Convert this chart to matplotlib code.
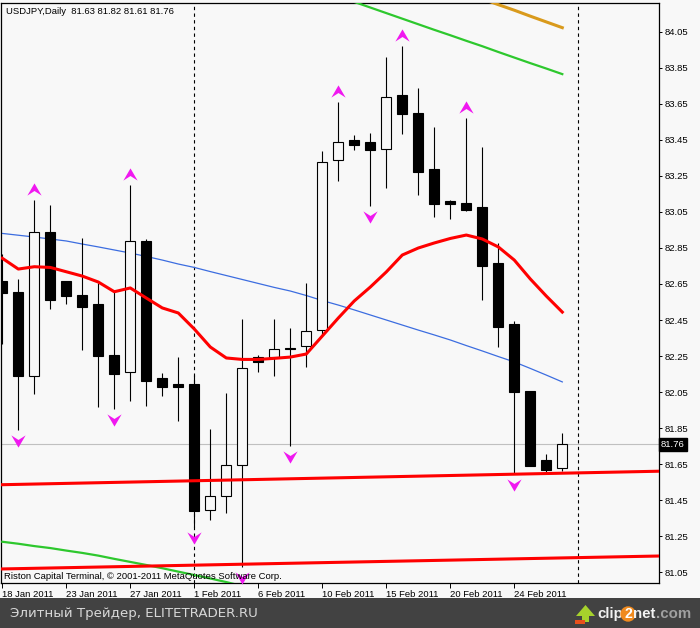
import numpy as np
import matplotlib.pyplot as plt
from matplotlib.path import Path
from matplotlib.patches import Rectangle, Polygon

# USDJPY daily bars, 18 Jan - 28 Feb 2011 (broker shows Sunday bars)
dates = ['18 Jan', '19 Jan', '20 Jan', '21 Jan', '23 Jan', '24 Jan', '25 Jan', '26 Jan',
         '27 Jan', '28 Jan', '30 Jan', '31 Jan', '1 Feb', '2 Feb', '3 Feb', '4 Feb',
         '6 Feb', '7 Feb', '8 Feb', '9 Feb', '10 Feb', '11 Feb', '13 Feb', '14 Feb',
         '15 Feb', '16 Feb', '17 Feb', '18 Feb', '20 Feb', '21 Feb', '22 Feb', '23 Feb',
         '24 Feb', '25 Feb', '27 Feb', '28 Feb']
opens = [82.667, 82.606, 82.141, 82.939, 82.667, 82.589, 82.539, 82.256, 82.163, 82.889,
         82.128, 82.094, 82.094, 81.393, 81.471, 81.643, 82.243, 82.243, 82.294, 82.304,
         82.393, 83.337, 83.450, 83.439, 83.398, 83.700, 83.600, 83.289, 83.111, 83.100,
         83.078, 82.767, 82.428, 82.056, 81.672, 81.63]
highs = [82.817, 82.678, 83.117, 83.089, 82.667, 82.906, 82.654, 82.607, 83.200, 82.900,
         82.156, 82.244, 82.144, 81.844, 82.044, 82.456, 82.256, 82.456, 82.404, 82.654,
         83.389, 83.661, 83.478, 83.489, 83.911, 83.972, 83.737, 83.521, 83.117, 83.572,
         83.411, 82.876, 82.444, 82.056, 81.706, 81.82]
lows = [82.317, 81.839, 82.039, 82.513, 82.541, 82.283, 81.965, 81.958, 82.002, 81.974,
        82.029, 81.891, 81.300, 81.339, 81.379, 81.079, 82.163, 82.139, 81.752, 82.191,
        82.367, 83.224, 83.396, 83.085, 83.185, 83.485, 83.146, 83.024, 83.013, 83.056,
        82.563, 82.302, 81.598, 81.641, 81.607, 81.61]
closes = [82.602, 82.141, 82.937, 82.563, 82.585, 82.524, 82.252, 82.152, 82.889, 82.113,
          82.079, 82.079, 81.391, 81.471, 81.644, 82.182, 82.215, 82.287, 82.288, 82.387,
          83.326, 83.437, 83.424, 83.396, 83.687, 83.596, 83.274, 83.096, 83.096, 83.063,
          82.752, 82.413, 82.052, 81.641, 81.617, 81.76]

# indicator lines (one value per bar)
ma_red = [82.793, 82.733, 82.746, 82.742, 82.718, 82.694, 82.661, 82.607, 82.628, 82.572,
          82.517, 82.489, 82.400, 82.300, 82.239, 82.231, 82.231, 82.237, 82.244, 82.261,
          82.361, 82.461, 82.556, 82.633, 82.717, 82.811, 82.850, 82.878, 82.903, 82.922,
          82.900, 82.856, 82.783, 82.678, 82.583, 82.494]
ma_blue = [82.931, 82.921, 82.911, 82.900, 82.889, 82.872, 82.856, 82.839, 82.822, 82.803,
           82.783, 82.761, 82.742, 82.719, 82.697, 82.675, 82.653, 82.631, 82.611, 82.586,
           82.558, 82.533, 82.506, 82.478, 82.450, 82.422, 82.394, 82.367, 82.339, 82.308,
           82.278, 82.247, 82.217, 82.181, 82.144, 82.106]
green_hi_start = 20
green_hi = [84.278, 84.247, 84.217, 84.186, 84.155, 84.124, 84.093, 84.062, 84.032, 84.001,
            83.971, 83.939, 83.908, 83.877, 83.847, 83.816]
orange_start = 29
orange = [84.266, 84.234, 84.202, 84.171, 84.138, 84.106, 84.074]
green_lo = [81.218, 81.207, 81.194, 81.183, 81.169, 81.156, 81.141, 81.123, 81.106, 81.089,
            81.071, 81.052, 81.033, 81.014, 80.994, 80.972]

# fractals and trend lines
up_fractals = [2, 8, 21, 25, 29]
down_fractals = [1, 7, 12, 15, 18, 23, 32]
trend_upper = [(0, 81.535), (40, 81.608)]
trend_lower = [(0, 81.067), (40, 81.137)]
separators = [12, 36]

bg = '#f8f8f8'
plt.rcParams['font.family'] = ['Liberation Sans', 'DejaVu Sans']

fig = plt.figure(figsize=(7, 6.28), dpi=100, facecolor=bg)
ax = fig.add_axes([1 / 700, 45 / 628, 658 / 700, 580 / 628], facecolor=bg)

n = len(opens)
x = np.arange(n)
ax.set_xlim(-1.3 / 16, 656.7 / 16)
ax.set_ylim(80.9889, 84.2111)

# separators and current price line
for s in separators:
    ax.axvline(s, color='black', lw=0.8, ls=(0, (3, 3)), zorder=1)
ax.axhline(closes[-1], color='#c0c0c0', lw=0.8, zorder=1)

ax.plot(x, ma_blue, color='#3c6de0', lw=0.9, zorder=2)

# candles
w = 0.63
for i in range(n):
    o, h, l, c = opens[i], highs[i], lows[i], closes[i]
    ax.vlines(i, l, h, color='black', lw=0.8, zorder=3)
    fc = 'black' if c < o else bg
    ax.add_patch(Rectangle((i - w / 2, min(o, c)), w, max(abs(c - o), 0.004),
                           fc=fc, ec='black', lw=0.8, zorder=4))

ax.plot(x, ma_red, color='#ff0000', lw=2.2, zorder=5)
ax.plot(np.arange(green_hi_start, green_hi_start + len(green_hi)), green_hi,
        color='#2ec82e', lw=1.6, zorder=5)
ax.plot(np.arange(len(green_lo)), green_lo, color='#2ec82e', lw=1.6, zorder=5)
ax.plot(np.arange(orange_start, orange_start + len(orange)), orange,
        color='#d99a1c', lw=2.2, zorder=5)
ax.axline(trend_upper[0], trend_upper[1], color='#ff0000', lw=2.2, zorder=5)
ax.axline(trend_lower[0], trend_lower[1], color='#ff0000', lw=2.2, zorder=5)

# fractal arrows
up_arrow = Path([(0, 6), (7, -6), (0, -1.5), (-7, -6), (0, 6)],
                [Path.MOVETO, Path.LINETO, Path.LINETO, Path.LINETO, Path.CLOSEPOLY])
down_arrow = Path([(0, -6), (7, 6), (0, 1.5), (-7, 6), (0, -6)],
                  [Path.MOVETO, Path.LINETO, Path.LINETO, Path.LINETO, Path.CLOSEPOLY])
gap = 0.062
ax.scatter(up_fractals, [highs[i] + gap for i in up_fractals], marker=up_arrow,
           s=105, color='#f018f0', lw=0, zorder=6, clip_on=False)
ax.scatter(down_fractals, [lows[i] - gap for i in down_fractals], marker=down_arrow,
           s=105, color='#f018f0', lw=0, zorder=6, clip_on=False)

# axes styling
for sp in ax.spines.values():
    sp.set_color('black')
    sp.set_linewidth(0.9)
yt = np.round(np.arange(81.05, 84.06, 0.2), 2)
ax.yaxis.tick_right()
ax.set_yticks(yt)
ax.set_yticklabels([f'{v:.2f}' for v in yt])
ax.tick_params(axis='y', direction='out', length=2.5, width=0.7, pad=1.5,
               labelsize=6.8, colors='black')
tick_idx = list(range(0, n, 4))
ax.set_xticks(tick_idx)
ax.set_xticklabels([dates[i] + ' 2011' for i in tick_idx])
ax.tick_params(axis='x', direction='out', length=3.5, width=0.7, pad=1.5,
               labelsize=6.8, colors='black')
for lbl in ax.get_xticklabels():
    lbl.set_horizontalalignment('left')

ax.text(1.003, closes[-1], f'{closes[-1]:.2f}', transform=ax.get_yaxis_transform(),
        ha='left', va='center', fontsize=6.8, color='white',
        bbox=dict(boxstyle='square,pad=0.2', fc='black', ec='black'))

ax.text(0.0076, 0.985, f'USDJPY,Daily  {opens[-1]:.2f} {highs[-1]:.2f} {lows[-1]:.2f} {closes[-1]:.2f}',
        transform=ax.transAxes, fontsize=6.8, va='center', ha='left', zorder=7)
ax.text(0.0046, 0.012, 'Riston Capital Terminal, © 2001-2011 MetaQuotes Software Corp.',
        transform=ax.transAxes, fontsize=6.8, va='center', ha='left', zorder=7)

# bottom banner
bax = fig.add_axes([0, 0, 1, 30 / 628], facecolor='#424242')
bax.set_xlim(0, 700)
bax.set_ylim(0, 30)
bax.set_xticks([])
bax.set_yticks([])
for sp in bax.spines.values():
    sp.set_visible(False)
bax.text(10, 15, 'Элитный Трейдер, ELITETRADER.RU', color='#d8d8d8', fontsize=9.6,
         family='DejaVu Sans', va='center', ha='left')
bax.add_patch(Polygon([(582, 6), (589, 6), (589, 12), (595, 12), (585.5, 23), (576, 12), (582, 12)],
                      closed=True, fc='#a6d22c', ec='none'))
bax.add_patch(Rectangle((575, 4), 10, 4, fc='#e8501c', ec='none'))
t1 = bax.text(597, 14, 'clip', color='#f2f2f2', fontsize=10.8, fontweight='bold',
              family='Liberation Sans', va='center', ha='left')
t2 = bax.annotate('2', xy=(1, 0.5), xycoords=t1, xytext=(1, 0), textcoords='offset points',
                  color='white', fontsize=10.2, fontweight='bold', family='Liberation Sans',
                  va='center', ha='left',
                  bbox=dict(boxstyle='circle,pad=0.05', fc='#f08a1e', ec='none'))
t3 = bax.annotate('net', xy=(1, 0.5), xycoords=t2, xytext=(1, 0), textcoords='offset points',
                  color='#f2f2f2', fontsize=10.8, fontweight='bold', family='Liberation Sans',
                  va='center', ha='left')
bax.annotate('.com', xy=(1, 0.5), xycoords=t3, color='#a0a0a0', fontsize=10.8,
             fontweight='bold', family='Liberation Sans', va='center', ha='left')

fig.savefig('out.png', dpi=100, facecolor=bg)
